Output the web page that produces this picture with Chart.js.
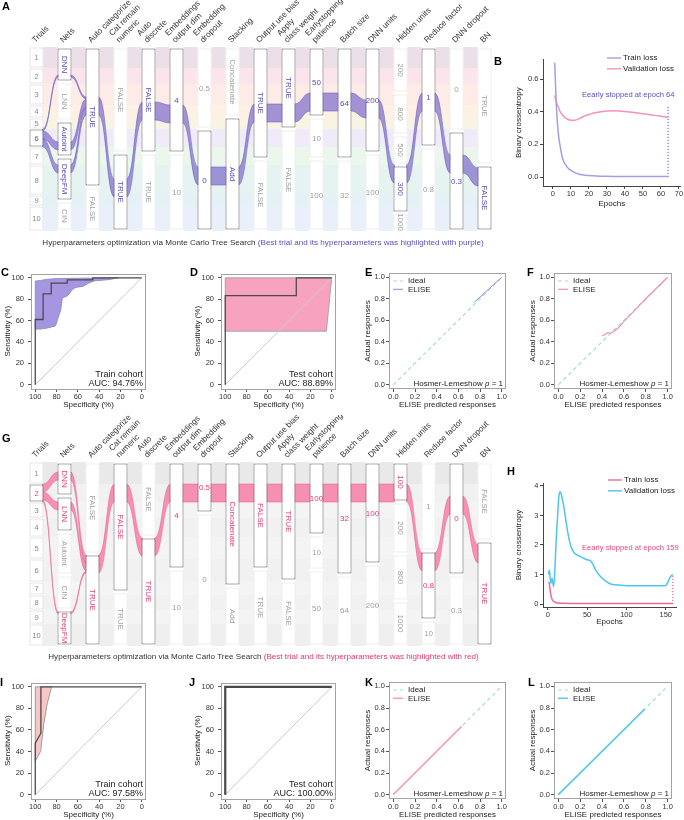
<!DOCTYPE html>
<html>
<head>
<meta charset="utf-8">
<script src="https://cdn.jsdelivr.net/npm/chart.js@4.4.1/dist/chart.umd.min.js"></script>
<style>
html,body{margin:0;padding:0;background:#fff}
body{width:684px;height:820px;position:relative;overflow:hidden;font-family:"Liberation Sans",Arial,sans-serif}
canvas{position:absolute}
.pl{position:absolute;font-weight:bold;font-size:11px;line-height:1;color:#000}
.cap{position:absolute;white-space:nowrap;line-height:1}
</style>
</head>
<body>
<script>
// ================= DATA =================
// ---- Alluvial column names (shared by A and G)
const columnNames = ["Trials","Nets","Auto categorize",["Cat remain","numeric"],["Auto","discrete"],["Embeddings","output dim"],["Embedding","dropout"],"Stacking","Output use bias",["Apply","class weight"],["Earlystopping","patience"],"Batch size","DNN units","Hidden units","Reduce factor","DNN dropout","BN"];
const rotatedNumberCols = [13];

// ---- Panel A (stratum sizes in stacked trial-weight units, top to bottom)
const trialsA = ["1","2","3","4","5","6","7","8","9","10"];
const trialWeightsA = [21,16,21,13,11,18,18,30,11,25];
const strataA = [trialsA,["DNN","LNN","Autoint","DeepFM","CIN"],["TRUE","FALSE"],["FALSE","TRUE"],["FALSE","TRUE"],["4","10"],["0.5","0"],["Concatenate","Add"],["TRUE","FALSE"],["TRUE","FALSE"],["50","10","100"],["64","32"],["200","100"],["200","800","500","300","1000"],["1","0.8"],["0","0.3"],["TRUE","FALSE"]];
const strataSizesA = [trialWeightsA,[35,39,36,44,30],[140,44],[106,78],[106,78],[106,78],[82,102],[70,114],[112,72],[82,102],[70,42,72],[112,72],[106,78],[46,42,30,48,18],[100,84],[84,100],[118,66]];
const bestA = [["6"],["DNN","Autoint","DeepFM"],["TRUE"],["TRUE"],["FALSE"],["4"],["0"],["Add"],["TRUE"],["TRUE"],["50"],["64"],["200"],["300"],["1"],["0.3"],["FALSE"]];
const bestPathA = [[[82,100]],[[28,30],[95,103],[118,126]],[[50,68]],[[132,150]],[[55,73]],[[58,76]],[[120,138]],[[120,138]],[[57,75]],[[57,75]],[[46,64]],[[46,64]],[[53,71]],[[118,136]],[[46,64]],[[108,126]],[[121,139]]];

// ---- Panel G
const trialsG = ["1","2","3","4","5","6","7","8","9","10"];
const trialWeightsG = [22,18,16,19,22,23,13,15,14,22];
const strataG = [trialsG,["DNN","LNN","Autoint","CIN","DeepFM"],["FALSE","TRUE"],["FALSE","TRUE"],["FALSE","TRUE"],["4","10"],["0.5","0"],["Concatenate","Add"],["FALSE","TRUE"],["TRUE","FALSE"],["100","10","50"],["32","64"],["100","200"],["100","200","800","1000"],["1","0.8","10"],["0","0.3"],["FALSE","TRUE"]];
const strataSizesG = [trialWeightsG,[34,36,43,35,36],[92,92],[130,54],[75,109],[107,77],[51,133],[124,60],[107,77],[119,65],[73,35,76],[113,71],[102,82],[40,52,47,45],[89,69,26],[113,71],[79,105]];
const bestG = [["2"],["DNN","LNN","DeepFM"],["TRUE"],["FALSE"],["TRUE"],["4"],["0.5"],["Concatenate"],["FALSE"],["TRUE"],["100"],["32"],["100"],["100"],["0.8"],["0"],["TRUE"]];
const bestPathG = [[[22,40]],[[10,18],[40,48],[150,152]],[[93,111]],[[22,40]],[[76,94]],[[22,40]],[[22,40]],[[22,40]],[[22,40]],[[22,40]],[[22,40]],[[22,40]],[[22,40]],[[22,40]],[[91,109]],[[34,52]],[[83,101]]];

// ---- Panel B (loss curves)
const epochsTrainB = [1,2,3,4,5,6,8,10,12,15,18,20,24,30,35,40,45,50,55,60,64];
const trainLossB = [0.70,0.42,0.27,0.19,0.13,0.095,0.06,0.04,0.028,0.016,0.011,0.009,0.006,0.004,0.0035,0.003,0.003,0.003,0.003,0.003,0.003];
const epochsValB = [1,2,3,4,5,6,8,10,12,15,18,20,24,30,35,40,45,50,55,60,64];
const valLossB = [0.50,0.455,0.43,0.40,0.385,0.37,0.355,0.348,0.348,0.359,0.376,0.383,0.395,0.404,0.406,0.401,0.395,0.388,0.38,0.372,0.365];
const stopEpochB = 64, stopLineTopB = 0.43;
const xTicksB = [0,10,20,30,40,50,60,70];
const yTicksB = [0,0.2,0.4,0.6];

// ---- Panel H
const epochsTrainH = [1,2,3,4,5,6,8,10,13,16,20,30,50,80,110,140,159];
const trainLossH = [0.75,0.70,0.48,0.30,0.2,0.135,0.08,0.05,0.035,0.03,0.025,0.02,0.02,0.02,0.02,0.02,0.02];
const epochsValH = [1,2,4,5.5,7.5,8.5,9.5,11,12.5,14,15.5,17,19,21,23,26,29.5,33,36,40,46,50,54,57,61,67,74,80,93,110,143,150,153,156,159];
const valLossH = [1.0,1.15,0.70,0.87,0.59,0.85,1.4,2.3,2.95,3.6,3.8,3.74,3.5,3.2,2.85,2.35,1.95,1.76,1.68,1.63,1.55,1.5,1.47,1.37,1.15,0.93,0.77,0.68,0.64,0.62,0.62,0.63,0.76,0.93,1.0];
const stopEpochH = 159, stopLineTopH = 1.0;
const xTicksH = [0,50,100,150];
const yTicksH = [0,1,2,3,4];

// ---- ROC curves (specificity %, sensitivity %)
const rocTicks = [0,20,40,60,80,100];
const rocCSpec = [100,100,92.6,92.6,85,85,70,70,46,46,0];
const rocCSens = [0,61,61,85,85,95,95,98,98,100,100];
const ciCSpec = [100,95,90,80,60,40,22,30,45,50,55,62,65,70,74.6,76,79,81,88.6,95,100,100];
const ciCSens = [97,97.5,98.5,99.3,99.6,99.8,100,98.4,97,95,92,91,89,83,81,70,61,55,53,52,52,97];
const rocDSpec = [100,100,33.3,33.3,0];
const rocDSens = [0,83.3,83.3,100,100];
const ciDSpec = [100,0,5,100,100];
const ciDSens = [100,100,50,50,100];
const rocISpec = [100,100,94.7,94.7,0];
const rocISens = [0,47.7,57,100,100];
const ciISpec = [100,84.6,88.7,91.9,95,100,100];
const ciISens = [100,100,84.6,66,40,31,100];
const rocJSpec = [100,100,0];
const rocJSens = [0,100,100];
const diagSpec = [100,0], diagSens = [0,100];

// ---- Calibration curves
const calTicks = [0,0.2,0.4,0.6,0.8,1.0];
const idealX = [0,1], idealY = [0,1];
const calEX = [0.75,1.0], calEY = [0.77,1.0];
const calFX = [0.40,0.43,0.45,0.47,0.50,0.55,0.60,0.70,0.80,0.90,1.0];
const calFY = [0.455,0.47,0.485,0.478,0.49,0.53,0.59,0.695,0.80,0.90,1.0];
const calKX = [0,0.63], calKY = [0,0.63];
const calLX = [0,0.79], calLY = [0,0.79];

// ================= HELPERS =================
const FONT = '"Liberation Sans", Arial, sans-serif';
Chart.defaults.font.family = FONT;
Chart.defaults.font.size = 7.5;
Chart.defaults.color = '#333';
Chart.defaults.animation = false;
Chart.defaults.responsive = false;
Chart.defaults.events = [];
Chart.defaults.plugins.legend.display = false;
Chart.defaults.plugins.tooltip.enabled = false;
Chart.defaults.elements.point.radius = 0;
Chart.defaults.elements.line.tension = 0;

const pts = (xs, ys) => xs.map((x, i) => ({x, y: ys[i]}));
function mk(id, l, t, w, h) {
  const c = document.createElement('canvas');
  c.id = id; c.width = w; c.height = h;
  c.style.left = l + 'px'; c.style.top = t + 'px';
  c.style.width = w + 'px'; c.style.height = h + 'px';
  document.body.appendChild(c);
  return c;
}
function letter(t, x, capTop) {
  const d = document.createElement('div'); d.className = 'pl'; d.textContent = t;
  d.style.left = x + 'px'; d.style.top = (capTop - 1.3) + 'px';
  document.body.appendChild(d);
}
function cumsum(a) { const o = [0]; for (const v of a) o.push(o[o.length - 1] + v); return o; }
function splitTo(seg, parts) {
  const tot = parts.reduce((t, p) => t + (p[1] - p[0]), 0);
  let y = seg[0]; const span = seg[1] - seg[0];
  return parts.map(p => { const h = (p[1] - p[0]) / tot * span; const r = [y, y + h]; y += h; return r; });
}
function pairSegs(a, b) {
  if (a.length === b.length) return a.map((s, i) => [s, b[i]]);
  if (a.length === 1) return splitTo(a[0], b).map((s, i) => [s, b[i]]);
  return splitTo(b[0], a).map((s, i) => [a[i], s]);
}
function ribbon(ctx, x0, x1, ys, s, t, fill, edge) {
  const xm = (x0 + x1) / 2;
  const a0 = ys.getPixelForValue(s[0]), a1 = ys.getPixelForValue(s[1]);
  const b0 = ys.getPixelForValue(t[0]), b1 = ys.getPixelForValue(t[1]);
  ctx.beginPath();
  ctx.moveTo(x0 - 1, a0);
  ctx.bezierCurveTo(xm, a0, xm, b0, x1 + 1, b0);
  ctx.lineTo(x1 + 1, b1);
  ctx.bezierCurveTo(xm, b1, xm, a1, x0 - 1, a1);
  ctx.closePath();
  ctx.fillStyle = fill; ctx.fill();
  ctx.strokeStyle = edge; ctx.lineWidth = 0.6; ctx.stroke();
}

// ================= ALLUVIAL (A, G) =================
function alluvial(id, left, top, labels, sizes, best, path, style) {
  const cv = mk(id, left, top, 500, 240);
  const total = sizes[0].reduce((a, b) => a + b, 0);
  const boxes = [], borders = [];
  labels.forEach((labs, c) => {
    const cu = cumsum(sizes[c]);
    labs.forEach((lab, k) => {
      const g = c === 0 ? 0.5 : 1.4;
      boxes.push({x: c, y: [cu[k] + g, cu[k + 1] - g]});
      const hi = best[c].includes(lab);
      borders.push(hi ? '#5a5a5a' : (c === 0 ? '#cfcfcf' : '#e0e0e0'));
    });
  });
  const plug = {
    id: 'alluvial_' + id,
    beforeDatasetsDraw(chart) {
      const ctx = chart.ctx, xs = chart.scales.x, ys = chart.scales.y, hw = 7;
      const tc = cumsum(sizes[0]);
      ctx.save();
      for (let j = 0; j < sizes.length - 1; j++) {
        const x0 = xs.getPixelForValue(j) + hw, x1 = xs.getPixelForValue(j + 1) - hw;
        style.bands.forEach((col, k) => {
          const y0 = ys.getPixelForValue(tc[k]), y1 = ys.getPixelForValue(tc[k + 1]);
          ctx.fillStyle = col; ctx.fillRect(x0, y0, x1 - x0, y1 - y0);
        });
      }
      for (let j = 0; j < sizes.length - 1; j++) {
        const x0 = xs.getPixelForValue(j) + hw, x1 = xs.getPixelForValue(j + 1) - hw;
        pairSegs(path[j], path[j + 1]).forEach(([s, t]) => ribbon(ctx, x0, x1, ys, s, t, style.fill, style.edge));
      }
      ctx.restore();
    },
    afterDatasetsDraw(chart) {
      const ctx = chart.ctx, xs = chart.scales.x, ys = chart.scales.y;
      ctx.save();
      ctx.textAlign = 'center'; ctx.textBaseline = 'middle';
      labels.forEach((labs, c) => {
        const cu = cumsum(sizes[c]);
        labs.forEach((lab, k) => {
          const x = xs.getPixelForValue(c), y = ys.getPixelForValue((cu[k] + cu[k + 1]) / 2);
          const hi = best[c].includes(lab);
          ctx.fillStyle = hi ? style.hiText : (c === 0 ? '#8a8a8a' : '#a0a0a0');
          ctx.font = (c === 0 ? 7.5 : 8) + 'px ' + FONT;
          const rot = c > 0 && (isNaN(Number(lab)) || rotatedNumberCols.includes(c));
          ctx.save(); ctx.translate(x, y); if (rot) ctx.rotate(Math.PI / 2);
          ctx.fillText(lab, 0, 0.5); ctx.restore();
        });
      });
      ctx.restore();
    }
  };
  new Chart(cv, {
    type: 'bar',
    data: {datasets: [{data: boxes, backgroundColor: '#ffffff', borderColor: borders, borderWidth: 1, borderSkipped: false, barThickness: 14, inflateAmount: 0}]},
    options: {
      layout: {padding: {left: 1.5, right: 1.5, top: 0, bottom: 9}},
      scales: {
        x: {type: 'linear', position: 'top', min: -1.25, max: 16.5, offset: false,
            afterBuildTicks: s => { s.ticks = columnNames.map((_, i) => ({value: i})); },
            afterFit: s => { s.height = 47; s.paddingLeft = 0; s.paddingRight = 0; },
            grid: {display: false, drawTicks: false}, border: {display: false},
            ticks: {autoSkip: false, minRotation: 45, maxRotation: 45, padding: 2, labelOffset: 4, font: {size: 8.2}, color: '#333',
                    callback: v => columnNames[v]}},
        y: {display: false, min: 0, max: total, reverse: true}
      }
    },
    plugins: [plug]
  });
}

// ================= GENERIC PLUGINS =================
function notesPlugin(items) {
  return {
    id: 'notes' + Math.random().toString(36).slice(2),
    afterDatasetsDraw(chart) {
      const ctx = chart.ctx, ca = chart.chartArea;
      items.forEach(it => {
        const parts = it.parts || [{t: it.text}];
        const size = it.size || 8;
        ctx.save();
        ctx.textBaseline = 'middle'; ctx.textAlign = 'left';
        ctx.fillStyle = it.color || '#222';
        const fontOf = p => (p.italic ? 'italic ' : '') + size + 'px ' + FONT;
        let w = 0; parts.forEach(p => { ctx.font = fontOf(p); w += ctx.measureText(p.t).width; });
        let x = (it.xEdge === 'right' ? ca.right : ca.left) + it.dx;
        if (it.align === 'right') x -= w;
        const y = it.yVal !== undefined ? chart.scales.y.getPixelForValue(it.yVal) : (it.yEdge === 'bottom' ? ca.bottom : ca.top) + it.dy;
        parts.forEach(p => { ctx.font = fontOf(p); ctx.fillText(p.t, x, y); x += ctx.measureText(p.t).width; });
        ctx.restore();
      });
    }
  };
}
function legendPlugin(idx, o) {
  return {
    id: 'lg' + Math.random().toString(36).slice(2),
    afterDraw(chart) {
      const ctx = chart.ctx, ca = chart.chartArea;
      const x0 = (o.xEdge === 'right' ? ca.right : ca.left) + o.dx;
      idx.forEach((di, i) => {
        const ds = chart.data.datasets[di];
        const y = ca.top + o.dy + i * o.rowH;
        ctx.save();
        ctx.strokeStyle = ds.borderColor; ctx.lineWidth = o.lw || ds.borderWidth || 1.2;
        ctx.setLineDash(ds.borderDash || []);
        ctx.beginPath(); ctx.moveTo(x0, y); ctx.lineTo(x0 + o.len, y); ctx.stroke();
        ctx.setLineDash([]);
        ctx.fillStyle = '#222'; ctx.font = (o.size || 8) + 'px ' + FONT;
        ctx.textBaseline = 'middle'; ctx.textAlign = 'left';
        ctx.fillText(ds.label, x0 + o.len + o.gap, y);
        ctx.restore();
      });
    }
  };
}
const framePlugin = {
  id: 'frame',
  afterDatasetsDraw(chart) {
    const ctx = chart.ctx, ca = chart.chartArea;
    ctx.save(); ctx.strokeStyle = '#a3a3a3'; ctx.lineWidth = 1;
    ctx.strokeRect(Math.round(ca.left) + 0.5, Math.round(ca.top) + 0.5, Math.round(ca.right - ca.left) - 1, Math.round(ca.bottom - ca.top) - 1);
    ctx.restore();
  }
};

// ================= FRAMED PANELS (ROC / calibration) =================
function framedPanel(id, box, datasets, o) {
  const padL = 31, padT = 8, padR = 6, padB = 24;
  const cv = mk(id, box[0] - padL, box[1] - padT, box[2] - box[0] + padL + padR, box[3] - box[1] + padT + padB);
  const axis = (isX) => ({
    type: 'linear', min: o.min, max: o.max, reverse: isX && !!o.reverseX,
    afterBuildTicks: s => { s.ticks = o.ticks.map(v => ({value: v})); },
    afterFit: s => { if (isX) { s.height = padB; } else { s.width = padL; } },
    grid: {display: true, drawOnChartArea: false, drawTicks: true, tickLength: 3, tickColor: '#555', color: '#555'},
    border: {display: false},
    ticks: {font: {size: 7.5}, color: '#333', padding: isX ? 0 : o.yPad, maxRotation: 0, autoSkip: false, callback: o.fmt},
    title: {display: true, text: isX ? o.xTitle : o.yTitle, font: {size: 8}, color: '#222',
            padding: isX ? {top: 0, bottom: 3.2} : {top: o.yTitlePad, bottom: 0}}
  });
  const plugins = [framePlugin, notesPlugin(o.notes || [])];
  if (o.legend) plugins.push(legendPlugin(o.legend.idx, o.legend));
  new Chart(cv, {
    type: 'line',
    data: {datasets},
    options: {
      layout: {padding: {left: 0, top: padT, right: padR, bottom: 0}},
      scales: {x: axis(true), y: axis(false)}
    },
    plugins
  });
}

function rocPanel(id, box, ciX, ciY, rocX, rocY, ciFill, ciEdge, cohort, auc, rocW) {
  framedPanel(id, box, [
    {data: pts(ciX, ciY), fill: 'shape', backgroundColor: ciFill, borderColor: ciEdge, borderWidth: 0.8, order: 3},
    {data: pts(diagSpec, diagSens), borderColor: '#c9c9c9', borderWidth: 1, order: 2},
    {data: pts(rocX, rocY), borderColor: '#4a4a4a', borderWidth: rocW, order: 1}
  ], {
    min: -4, max: 104, reverseX: true, ticks: rocTicks, fmt: v => String(v), yPad: 4, yTitlePad: 3.2,
    xTitle: 'Specificity (%)', yTitle: 'Sensitivity (%)',
    notes: [
      {text: cohort, xEdge: 'right', dx: -3, yEdge: 'bottom', dy: -14.5, align: 'right', size: 9},
      {text: 'AUC: ' + auc, xEdge: 'right', dx: -3, yEdge: 'bottom', dy: -5, align: 'right', size: 9}
    ]
  });
}

function calPanel(id, box, cx, cy, color, width) {
  framedPanel(id, box, [
    {label: 'Ideal', data: pts(idealX, idealY), borderColor: '#a8dfcb', borderWidth: 1.2, borderDash: [4, 3], order: 2},
    {label: 'ELISE', data: pts(cx, cy), borderColor: color, borderWidth: width, order: 1}
  ], {
    min: -0.04, max: 1.04, ticks: calTicks, fmt: v => v.toFixed(1), yPad: 1, yTitlePad: 5.2,
    xTitle: 'ELISE predicted responses', yTitle: 'Actual responses',
    legend: {idx: [0, 1], xEdge: 'left', dx: 4, dy: 8, rowH: 8.3, len: 10, gap: 5, size: 8},
    notes: [
      {parts: [{t: 'Hosmer-Lemeshow '}, {t: 'p', italic: true}, {t: ' = 1'}], xEdge: 'right', dx: -3, yEdge: 'bottom', dy: -5, align: 'right', size: 8}
    ]
  });
}

// ================= LOSS PANELS (B, H) =================
function lossPanel(id, left, top, w, h, cfg) {
  const cv = mk(id, left, top, w, h);
  new Chart(cv, {
    type: 'line',
    data: {datasets: cfg.datasets},
    options: {
      layout: {padding: {left: 0, top: cfg.padT, right: cfg.padR, bottom: 0}},
      scales: {
        x: {type: 'linear', min: cfg.xMin, max: cfg.xMax,
            afterBuildTicks: s => { s.ticks = cfg.xTicks.map(v => ({value: v})); },
            afterFit: s => { s.height = cfg.xH; },
            grid: {display: true, drawOnChartArea: false, tickLength: 3, tickColor: '#444', color: '#444'},
            border: {display: true, color: '#444', width: 1},
            ticks: {padding: 0, maxRotation: 0, autoSkip: false, font: {size: 7.5}, color: '#333', callback: v => String(v)},
            title: {display: true, text: 'Epochs', font: {size: 8}, color: '#222', padding: {top: 0, bottom: 1.2}}},
        y: {type: 'linear', min: cfg.yMin, max: cfg.yMax,
            afterBuildTicks: s => { s.ticks = cfg.yTicks.map(v => ({value: v})); },
            afterFit: s => { s.width = 35; },
            grid: {display: true, drawOnChartArea: false, tickLength: 3, tickColor: '#444', color: '#444'},
            border: {display: true, color: '#444', width: 1},
            ticks: {padding: 1.5, font: {size: 7.5}, color: '#333', callback: cfg.yFmt},
            title: {display: true, text: 'Binary crossentropy', font: {size: 8}, color: '#222', padding: {top: 5.5, bottom: 0}}}
      }
    },
    plugins: [legendPlugin([0, 1], {xEdge: 'right', dx: cfg.legDx, dy: cfg.legDy, rowH: 10.8, len: 14, gap: 2, size: 8, lw: 1.4}),
              notesPlugin([{text: cfg.stopText, xEdge: 'left', dx: 39, yVal: cfg.stopTextY, align: 'left', color: cfg.stopColor, size: 7.6}])]
  });
}

// ================= BUILD =================
alluvial('cA', 0, 0, strataA, strataSizesA, bestA, bestPathA, {
  bands: ['#ebe0e7','#fbe4ec','#fcebe6','#fdf1e4','#f8f4e3','#efebf8','#ebf6ec','#e5f4f1','#e4f2f7','#e9f0f9'],
  fill: 'rgba(128,110,205,0.72)', edge: 'rgba(100,85,185,0.85)', hiText: '#5b4bbd'
});
alluvial('cG', 0, 415, strataG, strataSizesG, bestG, bestPathG, {
  bands: ['#e9e9e9','#f1f1f1','#f4f4f4','#f1f1f1','#f4f4f4','#f1f1f1','#f4f4f4','#f1f1f1','#f4f4f4','#efefef'],
  fill: 'rgba(246,120,162,0.8)', edge: 'rgba(235,90,140,0.85)', hiText: '#e63a7a'
});

lossPanel('cB', 508, 48, 176, 162, {
  datasets: [
    {label: 'Train loss', data: pts(epochsTrainB, trainLossB), borderColor: '#a99be6', borderWidth: 1.5, cubicInterpolationMode: 'monotone', order: 1},
    {label: 'Validation loss', data: pts(epochsValB, valLossB), borderColor: '#f592b5', borderWidth: 1.5, cubicInterpolationMode: 'monotone', order: 2},
    {label: 'stop', data: pts([stopEpochB, stopEpochB], [0, stopLineTopB]), borderColor: '#5a4fbf', borderWidth: 1, borderDash: [1.2, 1.8], order: 3}
  ],
  padT: 11.4, padR: 3.3, xH: 24, xMin: -5.5, xMax: 71, yMin: -0.055, yMax: 0.72,
  xTicks: xTicksB, yTicks: yTicksB, yFmt: v => v.toFixed(1),
  legDx: -73.7, legDy: -1.4,
  stopText: 'Eearly stopped at epoch ' + stopEpochB, stopTextY: 0.5, stopColor: '#5a4fbf'
});
lossPanel('cH', 508, 472, 176, 156, {
  datasets: [
    {label: 'Train loss', data: pts(epochsTrainH, trainLossH), borderColor: '#f06a96', borderWidth: 1.5, cubicInterpolationMode: 'monotone', order: 1},
    {label: 'Validation loss', data: pts(epochsValH, valLossH), borderColor: '#4fc3f3', borderWidth: 1.5, cubicInterpolationMode: 'monotone', order: 2},
    {label: 'stop', data: pts([stopEpochH, stopEpochH], [0, stopLineTopH]), borderColor: '#e6467e', borderWidth: 1, borderDash: [1.2, 1.8], order: 3}
  ],
  padT: 11, padR: 8, xH: 21, xMin: -6, xMax: 163, yMin: -0.1, yMax: 4.1,
  xTicks: xTicksH, yTicks: yTicksH, yFmt: v => String(v),
  legDx: -68, legDy: -3,
  stopText: 'Eearly stopped at epoch ' + stopEpochH, stopTextY: 1.9, stopColor: '#e6467e'
});

rocPanel('cC', [31,273,146,389], ciCSpec, ciCSens, rocCSpec, rocCSens, '#a696e1', '#8c84b5', 'Train cohort', '94.76%', 1.3);
rocPanel('cD', [221,273,336,389], ciDSpec, ciDSens, rocDSpec, rocDSens, '#f7a3c0', '#9a9a9a', 'Test cohort', '88.89%', 1.3);
calPanel('cE', [389,273,506,389], calEX, calEY, '#8f86d3', 1);
calPanel('cF', [554,273,672,389], calFX, calFY, '#f48fb1', 1.2);
rocPanel('cI', [31,682,146,799], ciISpec, ciISens, rocISpec, rocISens, '#f9c6c6', '#8a8a8a', 'Train cohort', '97.58%', 1.3);
rocPanel('cJ', [221,682,336,799], rocJSpec, rocJSens, rocJSpec, rocJSens, 'rgba(0,0,0,0)', '#777', 'Test cohort', '100.00%', 2.2);
calPanel('cK', [389,682,506,799], calKX, calKY, '#f2a3b7', 1.6);
calPanel('cL', [554,682,672,799], calLX, calLY, '#5cc8ea', 1.6);

// ================= TEXT (letters, captions) =================
[['A',2,2],['B',494,57],['C',1,268],['D',190,268],['E',365,268],['F',527,268],['G',2,434],['H',507,467],['I',0,678],['J',189,678],['K',365,678],['L',528,678]]
  .forEach(([t, x, y]) => letter(t, x, y));

function caption(centerX, centerY, parts, fs) {
  const d = document.createElement('div'); d.className = 'cap';
  parts.forEach(p => { const s = document.createElement('span'); s.textContent = p.t; s.style.color = p.c; d.appendChild(s); });
  d.style.fontSize = fs + 'px';
  document.body.appendChild(d);
  const w = d.getBoundingClientRect().width;
  d.style.left = (centerX - w / 2) + 'px'; d.style.top = (centerY - fs / 2) + 'px';
  return w;
}
(function () {
  const partsA = [{t: 'Hyperparameters optimization via Monte Carlo Tree Search ', c: '#333'}, {t: '(Best trial and its hyperparameters was highlighted with purple)', c: '#5b4fc1'}];
  const partsG = [{t: 'Hyperparameters optimization via Monte Carlo Tree Search ', c: '#333'}, {t: '(Best trial and its hyperparameters was highlighted with red)', c: '#e8336f'}];
  const probe = document.createElement('div'); probe.className = 'cap'; probe.style.fontSize = '10px'; probe.style.visibility = 'hidden';
  probe.textContent = partsA.map(p => p.t).join(''); document.body.appendChild(probe);
  const fs = 10 * 442 / probe.getBoundingClientRect().width; probe.remove();
  caption(263, 243, partsA, fs);
  caption(263.5, 657, partsG, fs);
})();
</script>
</body>
</html>
